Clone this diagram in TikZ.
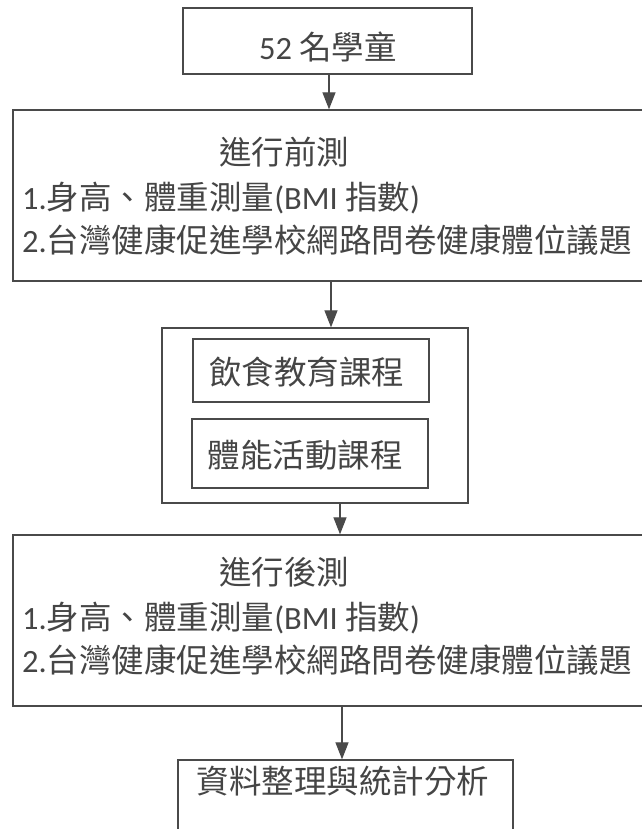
\documentclass[tikz,border=0pt]{standalone}
\usepackage{fontspec}
\setmainfont{Carlito}
\newfontfamily\cjk{Noto Sans CJK TC}
\newfontfamily\lat{Carlito}
\usetikzlibrary{arrows.meta}
\definecolor{ink}{HTML}{454545}
\definecolor{edge}{HTML}{4A4A4A}
\begin{document}
\begin{tikzpicture}[x=1pt,y=1pt,
  box/.style={draw=edge, line width=1.3pt, rectangle, inner sep=0pt},
  txt/.style={text=ink, inner sep=0pt, font=\fontsize{32.5}{38}\selectfont\cjk},
  arr/.style={draw=edge, line width=1.3pt, -{Triangle[length=17pt,width=13pt]}, fill=edge}
]
\useasboundingbox (0,0) rectangle (641,829);
\fill[white] (0,0) rectangle (641,829);

% boxes
\node[box, minimum width=289pt, minimum height=66pt] (b1) at (327.5,788) {};
\node[box, minimum width=637pt, minimum height=171pt] (b2) at (331.5,633.5) {};
\node[box, minimum width=306pt, minimum height=175pt] (b3) at (315,413.5) {};
\node[box, minimum width=236pt, minimum height=63pt] (b3a) at (311,458.5) {};
\node[box, minimum width=236pt, minimum height=69pt] (b3b) at (310,375.5) {};
\node[box, minimum width=637pt, minimum height=171pt] (b4) at (331.5,208.5) {};
\node[box, minimum width=335pt, minimum height=100pt] (b5) at (345.5,19) {};

% texts
\node[txt] (t1) at (328,782) {{\lat 52} 名學童};
\node[txt] (t2) at (284,677) {進行前測};
\node[txt, anchor=west] (t2a) at (22,631) {{\lat 1.}身高、體重測量{\lat (BMI }指數{\lat )}};
\node[txt, anchor=west] (t2b) at (22,589) {{\lat 2.}台灣健康促進學校網路問卷健康體位議題};
\node[txt] (t3a) at (306.5,457) {飲食教育課程};
\node[txt] (t3b) at (305,374) {體能活動課程};
\node[txt] (t4) at (284,257) {進行後測};
\node[txt, anchor=west] (t4a) at (22,211) {{\lat 1.}身高、體重測量{\lat (BMI }指數{\lat )}};
\node[txt, anchor=west] (t4b) at (22,169) {{\lat 2.}台灣健康促進學校網路問卷健康體位議題};
\node[txt] (t5) at (343,48) {資料整理與統計分析};

% arrow columns
\coordinate (c1) at (329,0);
\coordinate (c2) at (331,0);
\coordinate (c3) at (340,0);
\coordinate (c4) at (342,0);

\draw[arr] (b1.south -| c1) -- (b2.north -| c1);
\draw[arr] (b2.south -| c2) -- (b3.north -| c2);
\draw[arr] (b3.south -| c3) -- (b4.north -| c3);
\draw[arr] (b4.south -| c4) -- (b5.north -| c4);
\end{tikzpicture}
\end{document}
